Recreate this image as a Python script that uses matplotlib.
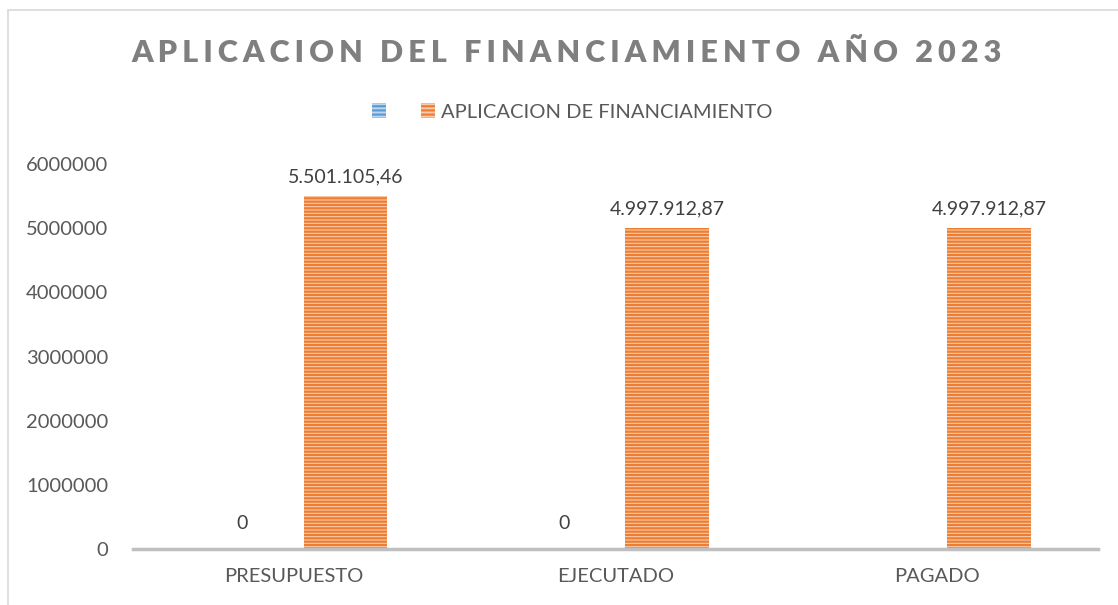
import matplotlib.pyplot as plt
import numpy as np
from matplotlib.patches import Rectangle, Patch

# Datos
categorias = ["PRESUPUESTO", "EJECUTADO", "PAGADO"]
serie_vacia = [0, 0, None]
aplicacion = [5501105.46, 4997912.87, 4997912.87]
etiquetas = ["5.501.105,46", "4.997.912,87", "4.997.912,87"]
titulo = "APLICACION DEL FINANCIAMIENTO AÑO 2023"
nombre_serie = "APLICACION DE FINANCIAMIENTO"

plt.rcParams["font.family"] = ["Lato", "DejaVu Sans"]
plt.rcParams["hatch.linewidth"] = 1.6

gris_texto = "#595959"
naranja = "#ED7D31"
naranja_claro = "#F8CBAD"
azul = "#5B9BD5"
azul_claro = "#BDD7EE"

fig = plt.figure(figsize=(11.18, 6.05), dpi=100)

# Marco del gráfico
fig.patches.append(Rectangle((8 / 1118, -0.01), 1.2, 1 - 10 / 605 + 0.01,
                             transform=fig.transFigure, fill=False,
                             edgecolor="#d9d9d9", linewidth=1.2))

ax = fig.add_axes([133 / 1118, 1 - 549 / 605, 965 / 1118, 385 / 605])

x = np.arange(len(categorias))
ancho = 0.26
desp = 0.161

ax.bar(x + desp, aplicacion, width=ancho, color=naranja_claro,
       edgecolor=naranja, hatch="-----", linewidth=0)

# Etiquetas de valores
for i, v in enumerate(aplicacion):
    ax.annotate(etiquetas[i], (x[i] + desp, v), xytext=(0, 8),
                textcoords="offset points", ha="center", va="bottom",
                fontsize=14, color="#404040")
for i, v in enumerate(serie_vacia):
    if v is not None:
        ax.annotate("0", (x[i] - desp, v), xytext=(0, 12),
                    textcoords="offset points", ha="center", va="bottom",
                    fontsize=14, color="#404040")

ax.set_xlim(-0.5, 2.5)
ax.set_ylim(0, 6000000)
ax.set_yticks(range(0, 6000001, 1000000))
ax.set_yticklabels([str(t) for t in range(0, 6000001, 1000000)])
ax.set_xticks(x)
ax.set_xticklabels(categorias)

for lado in ["top", "right", "left"]:
    ax.spines[lado].set_visible(False)
ax.spines["bottom"].set_color("#bfbfbf")
ax.spines["bottom"].set_linewidth(2.5)
ax.tick_params(axis="both", length=0, labelsize=14.5, colors=gris_texto)
ax.tick_params(axis="x", pad=14)
ax.tick_params(axis="y", pad=18)

# Título con espaciado entre letras
titulo_esp = "\u2006".join(list(titulo))
fig.text(0.507, 1 - 53 / 605, titulo_esp, ha="center", va="center",
         fontsize=22, fontweight="heavy", color="#7f7f7f")

# Leyenda
handles = [
    Patch(facecolor=azul_claro, edgecolor=azul, hatch="----", linewidth=0, label=" "),
    Patch(facecolor=naranja_claro, edgecolor=naranja, hatch="----", linewidth=0,
          label=nombre_serie),
]
fig.legend(handles=handles, loc="center", bbox_to_anchor=(0.512, 1 - 112 / 605),
           ncol=2, frameon=False, fontsize=14.5, labelcolor=gris_texto,
           handlelength=0.7, handleheight=0.7, handletextpad=0.3,
           columnspacing=1.2)

fig.savefig("out.png", dpi=100)
